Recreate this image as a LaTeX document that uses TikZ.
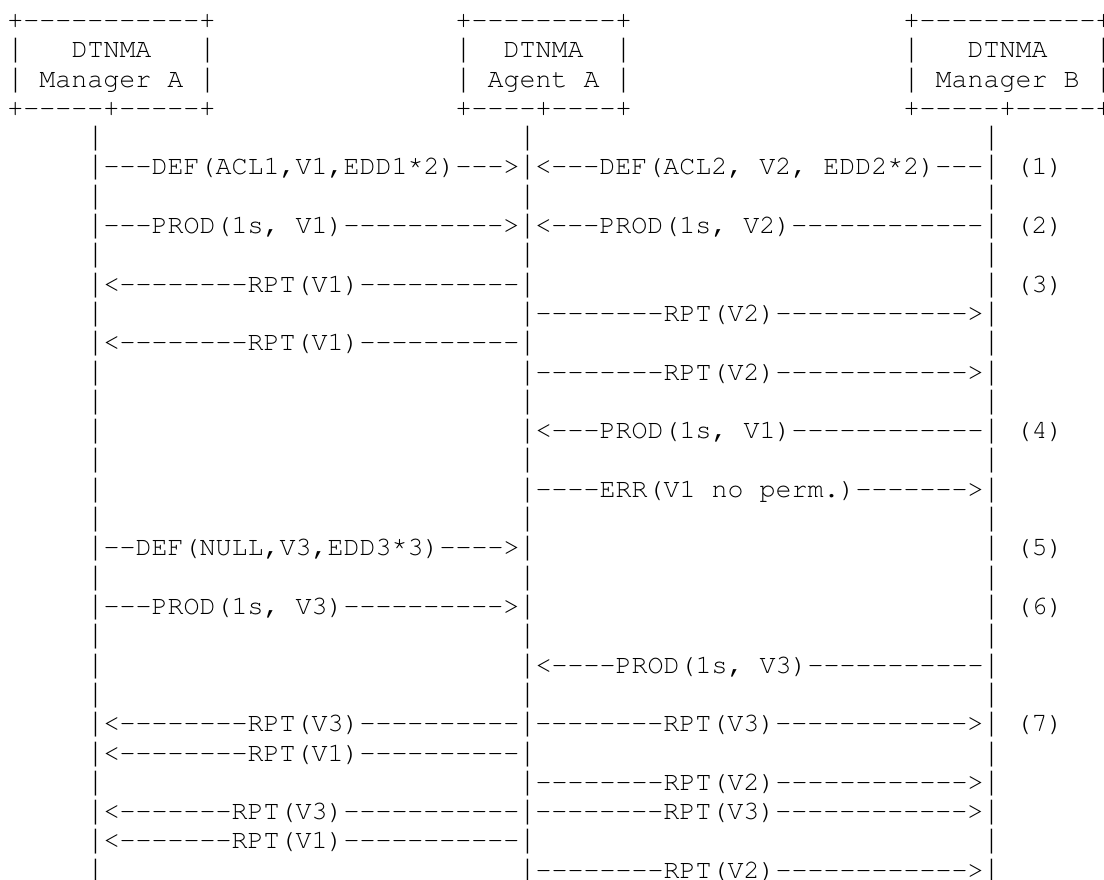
\documentclass[tikz,border=0pt]{standalone}
\usepackage[T1]{fontenc}
\usepackage{fontspec}
% Courier New metrics; its bar runs the full line height
\newfontfamily\barfont{Liberation Mono}
% a run of n hyphens that never merge into en/em dashes
\ExplSyntaxOn
\cs_new:Npn \dashrun #1 { \prg_replicate:nn {#1} { -{} } }
\ExplSyntaxOff
% a full-height, thin vertical bar in one character cell, so that stacked bars form a lifeline
\newcommand\lbar{\makebox[0.6em][c]{\scalebox{0.65}[1]{\barfont|}}}
% asterisk set high, as in Courier New
\newcommand\hast{\raisebox{0.18em}{*}}
\tikzset{
  txt/.style={anchor=base west, inner sep=0pt, outer sep=0pt,
    font=\fontencoding{T1}\fontfamily{pcr}\fontseries{m}\fontshape{n}\fontsize{20pt}{22pt}\selectfont\frenchspacing},
}
\begin{document}
\begin{tikzpicture}[x=12pt, y=-21.975pt]
% one unit in x is one character cell, one unit in y is one text line
\useasboundingbox ([xshift=-5.625pt,yshift=21.375pt]0,0) rectangle ++(828pt,-660pt);

% entity boxes
\node[txt] (ma0) at (0,0)  {+\dashrun{11}+};
\node[txt] (ag0) at (28,0) {+\dashrun{9}+};
\node[txt] (mb0) at (56,0) {+\dashrun{11}+};
\node[txt] (ma1) at (0,1)  {\lbar~~~DTNMA~~~\lbar};
\node[txt] (ag1) at (28,1) {\lbar~~DTNMA~~\lbar};
\node[txt] (mb1) at (56,1) {\lbar~~~DTNMA~~~\lbar};
\node[txt] (ma2) at (0,2)  {\lbar~Manager~A~\lbar};
\node[txt] (ag2) at (28,2) {\lbar~Agent~A~\lbar};
\node[txt] (mb2) at (56,2) {\lbar~Manager~B~\lbar};
\node[txt] (ma3) at (0,3)  {+\dashrun5+\dashrun5+};
\node[txt] (ag3) at (28,3) {+\dashrun4+\dashrun4+};
\node[txt] (mb3) at (56,3) {+\dashrun5+\dashrun5+};

% lifeline rows with no message
\foreach \r in {4,6,8,13,15,17,19,21,23} {
  \node[txt] (la\r) at (5,\r)  {\lbar};
  \node[txt] (lg\r) at (32,\r) {\lbar};
  \node[txt] (lb\r) at (61,\r) {\lbar};
}

% (1)
\node[txt] (m5)  at (5,5)  {\lbar\dashrun3DEF(ACL1,V1,EDD1\hast2)\dashrun3>\lbar<\dashrun3DEF(ACL2, V2, EDD2\hast2)\dashrun3\lbar};
\node[txt] (s1)  at (63,5) {(1)};
% (2)
\node[txt] (m7)  at (5,7)  {\lbar\dashrun3PROD(1s, V1)\dashrun{10}>\lbar<\dashrun3PROD(1s, V2)\dashrun{12}\lbar};
\node[txt] (s2)  at (63,7) {(2)};
% (3)
\node[txt] (m9)  at (5,9)  {\lbar<\dashrun8RPT(V1)\dashrun{10}\lbar};
\node[txt] (lb9) at (61,9) {\lbar};
\node[txt] (s3)  at (63,9) {(3)};
\node[txt] (la10) at (5,10)  {\lbar};
\node[txt] (m10)  at (32,10) {\lbar\dashrun8RPT(V2)\dashrun{12}>\lbar};
\node[txt] (m11)  at (5,11)  {\lbar<\dashrun8RPT(V1)\dashrun{10}\lbar};
\node[txt] (lb11) at (61,11) {\lbar};
\node[txt] (la12) at (5,12)  {\lbar};
\node[txt] (m12)  at (32,12) {\lbar\dashrun8RPT(V2)\dashrun{12}>\lbar};
% (4)
\node[txt] (la14) at (5,14)  {\lbar};
\node[txt] (m14)  at (32,14) {\lbar<\dashrun3PROD(1s, V1)\dashrun{12}\lbar};
\node[txt] (s4)   at (63,14) {(4)};
\node[txt] (la16) at (5,16)  {\lbar};
\node[txt] (m16)  at (32,16) {\lbar\dashrun4ERR(V1 no perm.)\dashrun7>\lbar};
% (5)
\node[txt] (m18)  at (5,18)  {\lbar\dashrun2DEF(NULL,V3,EDD3\hast3)\dashrun4>\lbar};
\node[txt] (lb18) at (61,18) {\lbar};
\node[txt] (s5)   at (63,18) {(5)};
% (6)
\node[txt] (m20)  at (5,20)  {\lbar\dashrun3PROD(1s, V3)\dashrun{10}>\lbar};
\node[txt] (lb20) at (61,20) {\lbar};
\node[txt] (s6)   at (63,20) {(6)};
\node[txt] (la22) at (5,22)  {\lbar};
\node[txt] (m22)  at (32,22) {\lbar<\dashrun4PROD(1s, V3)\dashrun{11}\lbar};
% (7)
\node[txt] (m24)  at (5,24)  {\lbar<\dashrun8RPT(V3)\dashrun{10}\lbar\dashrun8RPT(V3)\dashrun{12}>\lbar};
\node[txt] (s7)   at (63,24) {(7)};
\node[txt] (m25)  at (5,25)  {\lbar<\dashrun8RPT(V1)\dashrun{10}\lbar};
\node[txt] (lb25) at (61,25) {\lbar};
\node[txt] (la26) at (5,26)  {\lbar};
\node[txt] (m26)  at (32,26) {\lbar\dashrun8RPT(V2)\dashrun{12}>\lbar};
\node[txt] (m27)  at (5,27)  {\lbar<\dashrun7RPT(V3)\dashrun{11}\lbar\dashrun8RPT(V3)\dashrun{12}>\lbar};
\node[txt] (m28)  at (5,28)  {\lbar<\dashrun7RPT(V1)\dashrun{11}\lbar};
\node[txt] (lb28) at (61,28) {\lbar};
\node[txt] (la29) at (5,29)  {\lbar};
\node[txt] (m29)  at (32,29) {\lbar\dashrun8RPT(V2)\dashrun{12}>\lbar};
\end{tikzpicture}
\end{document}
